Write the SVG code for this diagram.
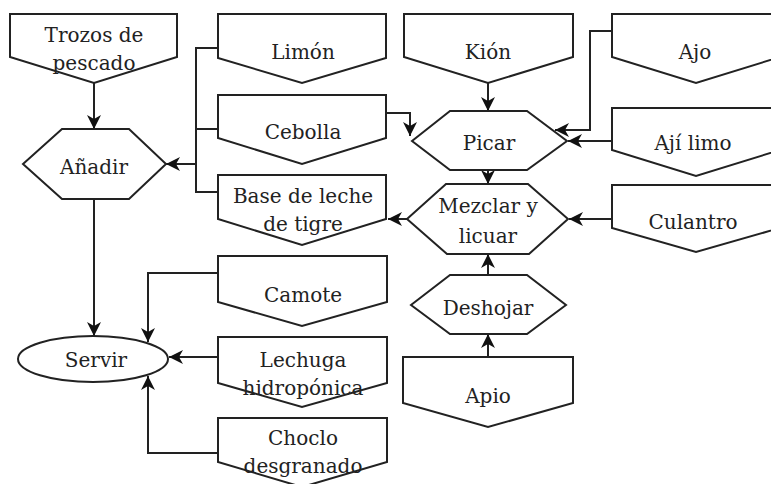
<svg xmlns="http://www.w3.org/2000/svg" width="771" height="484" viewBox="0 0 771 484">
  <style>
    .shape { fill: #ffffff; stroke: #222222; stroke-width: 2; stroke-linejoin: miter; }
    .label { font-family: "DejaVu Serif", "Liberation Serif", serif; font-size: 20px; fill: #222222; text-anchor: middle; }
    .link { fill: none; stroke: #222222; stroke-width: 2; }
    .link.arrow { marker-end: url(#head); }
  </style>
  <defs>
    <marker id="head" viewBox="0 0 14 14" markerWidth="14" markerHeight="14" refX="14" refY="7" orient="auto" markerUnits="userSpaceOnUse">
      <path d="M0,0 L14,7 L0,14 L4,7 Z" fill="#111111"/>
    </marker>
  </defs>
  <rect width="771" height="484" fill="#ffffff"/>

  <!-- connectors -->
  <g id="connectors">
    <path class="link arrow" d="M94,83 V129"/>
    <path class="link" d="M218,48 H196 V192 H218"/>
    <path class="link" d="M218,129 H196"/>
    <path class="link arrow" d="M196,164 H166"/>
    <path class="link arrow" d="M488,83 V111"/>
    <path class="link arrow" d="M386,113 H410 V136"/>
    <path class="link arrow" d="M612,31 H590 V130 H555"/>
    <path class="link arrow" d="M612,141 H568"/>
    <path class="link arrow" d="M488,170 V184"/>
    <path class="link arrow" d="M612,219 H569"/>
    <path class="link arrow" d="M407,219 H388"/>
    <path class="link arrow" d="M488,275 V254"/>
    <path class="link arrow" d="M488,357 V334"/>
    <path class="link arrow" d="M94,199 V336"/>
    <path class="link arrow" d="M218,273 H148 V342"/>
    <path class="link arrow" d="M218,357 H169"/>
    <path class="link arrow" d="M218,453 H148 V376"/>
  </g>

  <!-- input nodes (off-page shapes) -->
  <g id="trozos">
    <path class="shape" d="M10,14 H177 V57 L94,83 L10,57 Z"/>
    <text class="label" x="94" y="42">Trozos de</text>
    <text class="label" x="94" y="70">pescado</text>
  </g>
  <g id="limon">
    <path class="shape" d="M218,14 H386 V58 L302,83 L218,58 Z"/>
    <text class="label" x="303" y="59">Limón</text>
  </g>
  <g id="cebolla">
    <path class="shape" d="M218,95 H386 V138 L302,164 L218,138 Z"/>
    <text class="label" x="303" y="139">Cebolla</text>
  </g>
  <g id="base">
    <path class="shape" d="M218,175 H386 V219 L302,245 L218,219 Z"/>
    <text class="label" x="303" y="203">Base de leche</text>
    <text class="label" x="303" y="231">de tigre</text>
  </g>
  <g id="kion">
    <path class="shape" d="M404,14 H573 V57 L488,83 L404,57 Z"/>
    <text class="label" x="488" y="59">Kión</text>
  </g>
  <g id="ajo">
    <path class="shape" d="M612,14 H780 V57 L696,83 L612,57 Z"/>
    <text class="label" x="695" y="59">Ajo</text>
  </g>
  <g id="aji">
    <path class="shape" d="M612,108 H780 V150 L696,176 L612,150 Z"/>
    <text class="label" x="693" y="150">Ají limo</text>
  </g>
  <g id="culantro">
    <path class="shape" d="M612,185 H780 V228 L696,252 L612,228 Z"/>
    <text class="label" x="693" y="229">Culantro</text>
  </g>
  <g id="apio">
    <path class="shape" d="M403,357 H573 V403 L488,427 L403,403 Z"/>
    <text class="label" x="488" y="403">Apio</text>
  </g>
  <g id="camote">
    <path class="shape" d="M218,256 H387 V302 L302,326 L218,302 Z"/>
    <text class="label" x="303" y="302">Camote</text>
  </g>
  <g id="lechuga">
    <path class="shape" d="M218,337 H387 V383 L302,407 L218,383 Z"/>
    <text class="label" x="303" y="367">Lechuga</text>
    <text class="label" x="303" y="395">hidropónica</text>
  </g>
  <g id="choclo">
    <path class="shape" d="M218,418 H387 V462 L302,487 L218,462 Z"/>
    <text class="label" x="303" y="445">Choclo</text>
    <text class="label" x="303" y="473">desgranado</text>
  </g>

  <!-- process nodes (hexagons) -->
  <g id="anadir">
    <polygon class="shape" points="23,164 62,129 129,129 166,164 129,199 62,199"/>
    <text class="label" x="94" y="174">Añadir</text>
  </g>
  <g id="picar">
    <polygon class="shape" points="412,141 450,111 527,111 567,141 527,170 450,170"/>
    <text class="label" x="489" y="150">Picar</text>
  </g>
  <g id="mezclar">
    <polygon class="shape" points="407,219 446,184 528,184 568,219 529,254 447,254"/>
    <text class="label" x="488" y="213">Mezclar y</text>
    <text class="label" x="488" y="243">licuar</text>
  </g>
  <g id="deshojar">
    <polygon class="shape" points="411,305 450,275 527,275 566,305 527,334 450,334"/>
    <text class="label" x="488" y="315">Deshojar</text>
  </g>

  <!-- terminal node -->
  <g id="servir">
    <ellipse class="shape" cx="93" cy="359" rx="75" ry="23"/>
    <text class="label" x="96" y="367">Servir</text>
  </g>
</svg>
